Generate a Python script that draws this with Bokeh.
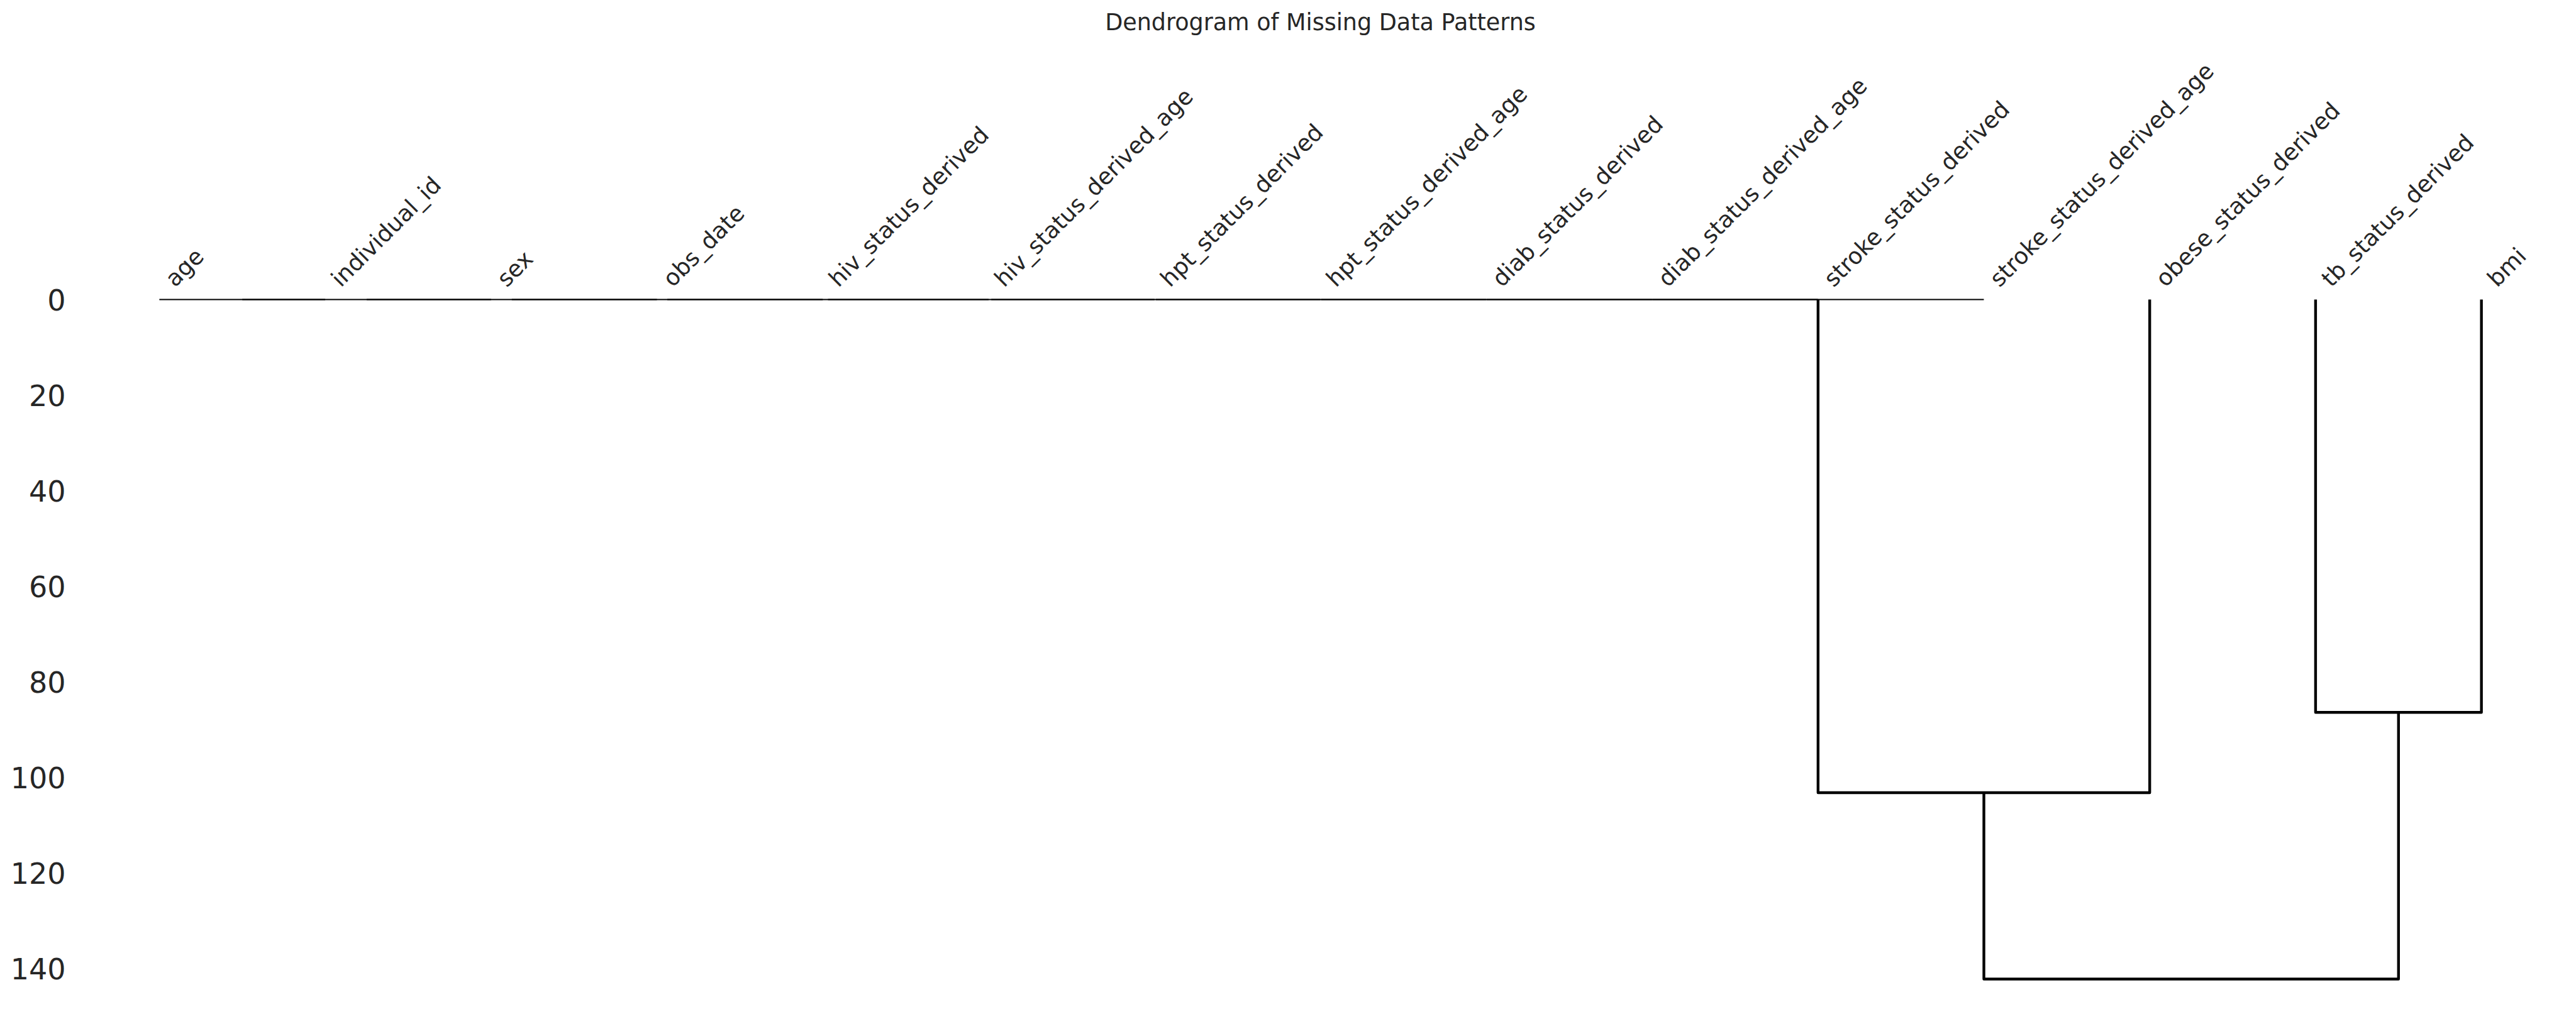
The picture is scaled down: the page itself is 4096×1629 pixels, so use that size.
from bokeh.plotting import figure
from bokeh.models import Range1d, FixedTicker, ColumnDataSource
from bokeh.core.properties import value
from bokeh.embed import file_html
from bokeh.resources import INLINE

# ---- data ----
leaf_names = ["age", "individual_id", "sex", "obs_date", "hiv_status_derived",
              "hiv_status_derived_age", "hpt_status_derived", "hpt_status_derived_age",
              "diab_status_derived", "diab_status_derived_age", "stroke_status_derived",
              "stroke_status_derived_age", "obese_status_derived", "tb_status_derived", "bmi"]

# linkage rows: (cluster a, cluster b, merge height); new cluster ids start at len(leaf_names)
merge_a = [0, 15, 16, 17, 18, 19, 20, 21, 22, 23, 24, 25, 13, 26]
merge_b = [1, 2, 3, 4, 5, 6, 7, 8, 9, 10, 11, 12, 14, 27]
merge_h = [0, 0, 0, 0, 0, 0, 0, 0, 0, 0, 0, 103.2, 86.4, 142.2]

y_ticks = [0, 20, 40, 60, 80, 100, 120, 140]
title_text = "Dendrogram of Missing Data Patterns"

# ---- dendrogram layout (scipy-like: leaves at 5, 15, 25, ...) ----
n = len(leaf_names)
pos = {i: 5 + 10 * i for i in range(n)}
hgt = {i: 0.0 for i in range(n)}
xs0, ys0, xs1, ys1 = [], [], [], []
for k, (a, b, h) in enumerate(zip(merge_a, merge_b, merge_h)):
    xa, xb = pos[a], pos[b]
    if h == 0:
        xs0.append([xa, xa, xb, xb])
        ys0.append([hgt[a], h, h, hgt[b]])
    else:
        xs1.append([xa, xa, xb, xb])
        ys1.append([hgt[a], h, h, hgt[b]])
    cid = n + k
    pos[cid] = (xa + xb) / 2
    hgt[cid] = h

x_max = 10 * n
y_max = max(merge_h) * 1.05
px_per_unit = 1135 / y_max          # frame pixels per distance unit
y_top = -476 / px_per_unit          # room above the leaves for labels and title

FONT = "DejaVu Sans"
TXT = "#262626"

p = figure(frame_width=3956, frame_height=1611,
           min_border_left=121, min_border_right=19,
           min_border_top=0, min_border_bottom=18,
           x_range=Range1d(0, x_max), y_range=Range1d(y_max, y_top),
           output_backend="svg", toolbar_location=None,
           x_axis_location=None)
p.outline_line_color = None
p.grid.visible = False
p.background_fill_color = "white"
p.border_fill_color = "white"

p.multi_line(xs0, ys0, line_color="black", line_width=2.2, line_join="round")
p.multi_line(xs1, ys1, line_color="black", line_width=4.4, line_join="round")

ax = p.yaxis[0]
ax.ticker = FixedTicker(ticks=y_ticks)
ax.axis_line_color = None
ax.major_tick_line_color = None
ax.minor_tick_line_color = None
ax.major_tick_out = 0
ax.major_tick_in = 0
ax.major_label_standoff = 17
ax.major_label_text_font = FONT
ax.major_label_text_font_size = "46px"
ax.major_label_text_color = TXT

src = ColumnDataSource(dict(x=[pos[i] for i in range(n)], y=[0] * n, text=leaf_names))
p.text(x="x", y="y", text="text", source=src,
       angle=45, angle_units="deg",
       text_align="left", text_baseline="alphabetic",
       x_offset=16, y_offset=-27,
       text_font=value(FONT), text_font_size="36.5px", text_color=TXT)

tsrc = ColumnDataSource(dict(x=[x_max / 2], y=[y_top + 35 / px_per_unit], text=[title_text]))
p.text(x="x", y="y", text="text", source=tsrc,
       text_align="center", text_baseline="alphabetic",
       text_font=value(FONT), text_font_size="36.5px", text_color=TXT)

open("out.html", "w").write(file_html(p, INLINE))
